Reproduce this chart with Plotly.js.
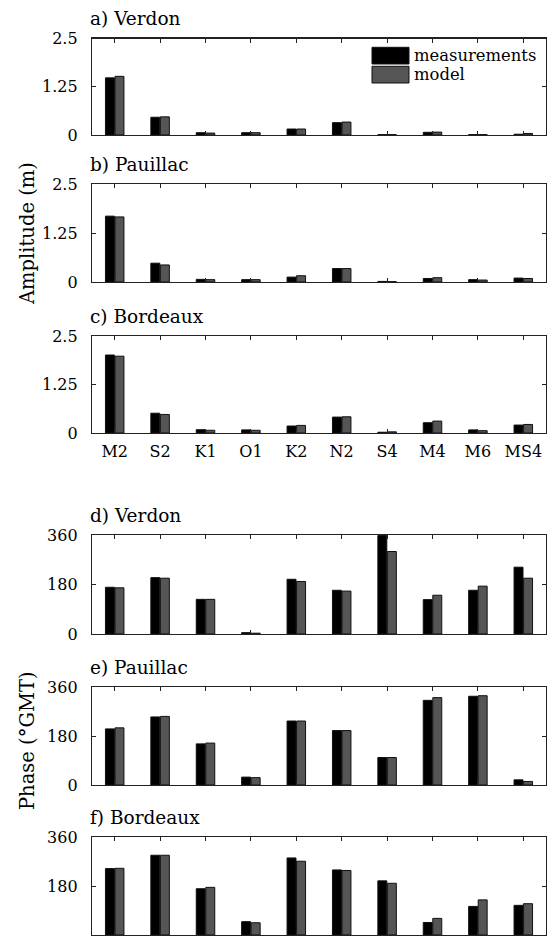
<!DOCTYPE html>
<html>
<head>
<meta charset="utf-8">
<script src="https://cdn.plot.ly/plotly-3.0.1.min.js"></script>
<style>
  html, body { margin: 0; padding: 0; background: #ffffff; }
  #chart { width: 553px; height: 943px; }
</style>
</head>
<body>
<div id="chart"></div>
<script>
// ---------------- data ----------------
const constituents = ['M2', 'S2', 'K1', 'O1', 'K2', 'N2', 'S4', 'M4', 'M6', 'MS4'];
const seriesNames = ['measurements', 'model'];
const panelTitles = ['a) Verdon', 'b) Pauillac', 'c) Bordeaux', 'd) Verdon', 'e) Pauillac', 'f) Bordeaux'];
const ampTicks = [0, 1.25, 2.5];
const ampTickText = ['0', '1.25', '2.5'];
const phaseTicks = [0, 180, 360];
const phaseTickText = ['0', '180', '360'];

// Amplitude (m)
const ampVerdonMeas    = [1.48, 0.46, 0.06, 0.06, 0.155, 0.32, 0.01, 0.07, 0.01, 0.02];
const ampVerdonModel   = [1.52, 0.47, 0.05, 0.06, 0.155, 0.335, 0.01, 0.075, 0.01, 0.04];
const ampPauillacMeas  = [1.68, 0.48, 0.067, 0.06, 0.125, 0.343, 0.015, 0.09, 0.06, 0.10];
const ampPauillacModel = [1.66, 0.435, 0.06, 0.06, 0.16, 0.343, 0.01, 0.11, 0.05, 0.09];
const ampBordeauxMeas  = [2.01, 0.51, 0.085, 0.08, 0.18, 0.41, 0.02, 0.265, 0.08, 0.205];
const ampBordeauxModel = [1.98, 0.478, 0.07, 0.07, 0.196, 0.418, 0.03, 0.307, 0.06, 0.22];

// Phase (deg GMT)
const phVerdonMeas    = [170, 205, 126, 5, 199, 159, 358, 125, 159, 243];
const phVerdonModel   = [168, 203, 126, 3, 191, 156, 300, 141, 174, 203];
const phPauillacMeas  = [206, 250, 151, 29, 235, 200, 101, 311, 326, 19];
const phPauillacModel = [210, 252, 154, 27, 235, 200, 101, 321, 328, 13];
const phBordeauxMeas  = [244, 293, 170, 49, 283, 239, 199, 46, 105, 109];
const phBordeauxModel = [245, 293, 175, 45, 271, 237, 190, 61, 129, 115];

// ---------------- layout helpers ----------------
const W = 553, H = 943;
const ML = 92, MR = 7, MT = 0, MB = 0;
const PW = W - ML - MR, PH = H - MT - MB;
const px2x = px => (px - ML) / PW;
const px2y = py => (H - MB - py) / PH;

// panel top/bottom in pixels
const panelPx = [[38.5, 135], [184, 282], [336, 433], [535, 634], [687, 785], [837, 935]];

const FONT = 'DejaVu Serif, Liberation Serif, serif';
const measColor = '#000000';
const modelColor = '#555555';

const panels = [
  [ampVerdonMeas, ampVerdonModel],
  [ampPauillacMeas, ampPauillacModel],
  [ampBordeauxMeas, ampBordeauxModel],
  [phVerdonMeas, phVerdonModel],
  [phPauillacMeas, phPauillacModel],
  [phBordeauxMeas, phBordeauxModel]
];

const traces = [];
panels.forEach((pair, i) => {
  const sfx = i === 0 ? '' : String(i + 1);
  pair.forEach((vals, j) => {
    traces.push({
      type: 'bar',
      name: seriesNames[j],
      x: constituents,
      y: vals,
      xaxis: 'x' + sfx,
      yaxis: 'y' + sfx,
      marker: { color: j === 0 ? measColor : modelColor, line: { color: '#111111', width: 1 } },
      showlegend: false,
      hoverinfo: 'x+y+name'
    });
  });
});

const layout = {
  width: W, height: H,
  margin: { l: ML, r: MR, t: MT, b: MB, pad: 0 },
  paper_bgcolor: '#ffffff',
  plot_bgcolor: '#ffffff',
  font: { family: FONT, size: 16, color: '#000000' },
  barmode: 'group',
  bargap: 0.58,
  bargroupgap: 0.06,
  showlegend: false,
  annotations: [],
  shapes: []
};

panelPx.forEach((p, i) => {
  const sfx = i === 0 ? '' : String(i + 1);
  const isAmp = i < 3;
  const showX = (i === 2 || i === 5);
  layout['xaxis' + sfx] = {
    domain: [0, 1],
    anchor: 'y' + sfx,
    type: 'category',
    categoryorder: 'array',
    categoryarray: constituents,
    range: [-0.5, constituents.length - 0.5],
    showline: true, linecolor: '#222222', linewidth: 1.2,
    mirror: 'ticks', ticks: 'inside', ticklen: 4, tickwidth: 1, tickcolor: '#222222',
    showgrid: false, zeroline: false,
    showticklabels: showX,
    ticklabelstandoff: 4,
    tickfont: { family: FONT, size: 16, color: '#000000' },
    fixedrange: true
  };
  layout['yaxis' + sfx] = {
    domain: [px2y(p[1]), px2y(p[0])],
    anchor: 'x' + sfx,
    range: isAmp ? [0, 2.5] : [0, 360],
    tickvals: isAmp ? ampTicks : phaseTicks,
    ticktext: isAmp ? ampTickText : phaseTickText,
    showline: true, linecolor: '#222222', linewidth: 1.2,
    mirror: 'ticks', ticks: 'inside', ticklen: 4, tickwidth: 1, tickcolor: '#222222',
    showgrid: false, zeroline: false,
    ticklabelstandoff: 10,
    tickfont: { family: FONT, size: 16, color: '#000000' },
    fixedrange: true
  };
  layout.annotations.push({
    text: panelTitles[i],
    xref: 'paper', yref: 'paper',
    x: px2x(88), y: px2y(p[0] - 7),
    xanchor: 'left', yanchor: 'bottom',
    showarrow: false,
    font: { family: FONT, size: 18.5, color: '#000000' }
  });
});

// y-axis titles
layout.annotations.push({
  text: 'Amplitude (m)', textangle: -90,
  xref: 'paper', yref: 'paper', x: px2x(27), y: px2y(234),
  xanchor: 'center', yanchor: 'middle', showarrow: false,
  font: { family: FONT, size: 19.5, color: '#000000' }
});
layout.annotations.push({
  text: 'Phase (°GMT)', textangle: -90,
  xref: 'paper', yref: 'paper', x: px2x(27), y: px2y(741),
  xanchor: 'center', yanchor: 'middle', showarrow: false,
  font: { family: FONT, size: 19.5, color: '#000000' }
});

// legend (drawn as swatches + labels in panel a)
const legendRows = [[47.3, 64], [66.3, 83]];
seriesNames.forEach((nm, j) => {
  const r = legendRows[j];
  layout.shapes.push({
    type: 'rect', xref: 'paper', yref: 'paper',
    x0: px2x(372), x1: px2x(409), y0: px2y(r[1]), y1: px2y(r[0]),
    fillcolor: j === 0 ? measColor : modelColor,
    line: { color: '#111111', width: 1 }
  });
  layout.annotations.push({
    text: nm, xref: 'paper', yref: 'paper',
    x: px2x(412), y: px2y((r[0] + r[1]) / 2),
    xanchor: 'left', yanchor: 'middle', showarrow: false,
    font: { family: FONT, size: 16.4, color: '#000000' }
  });
});

Plotly.newPlot('chart', traces, layout, { displayModeBar: false, staticPlot: true });
</script>
</body>
</html>
